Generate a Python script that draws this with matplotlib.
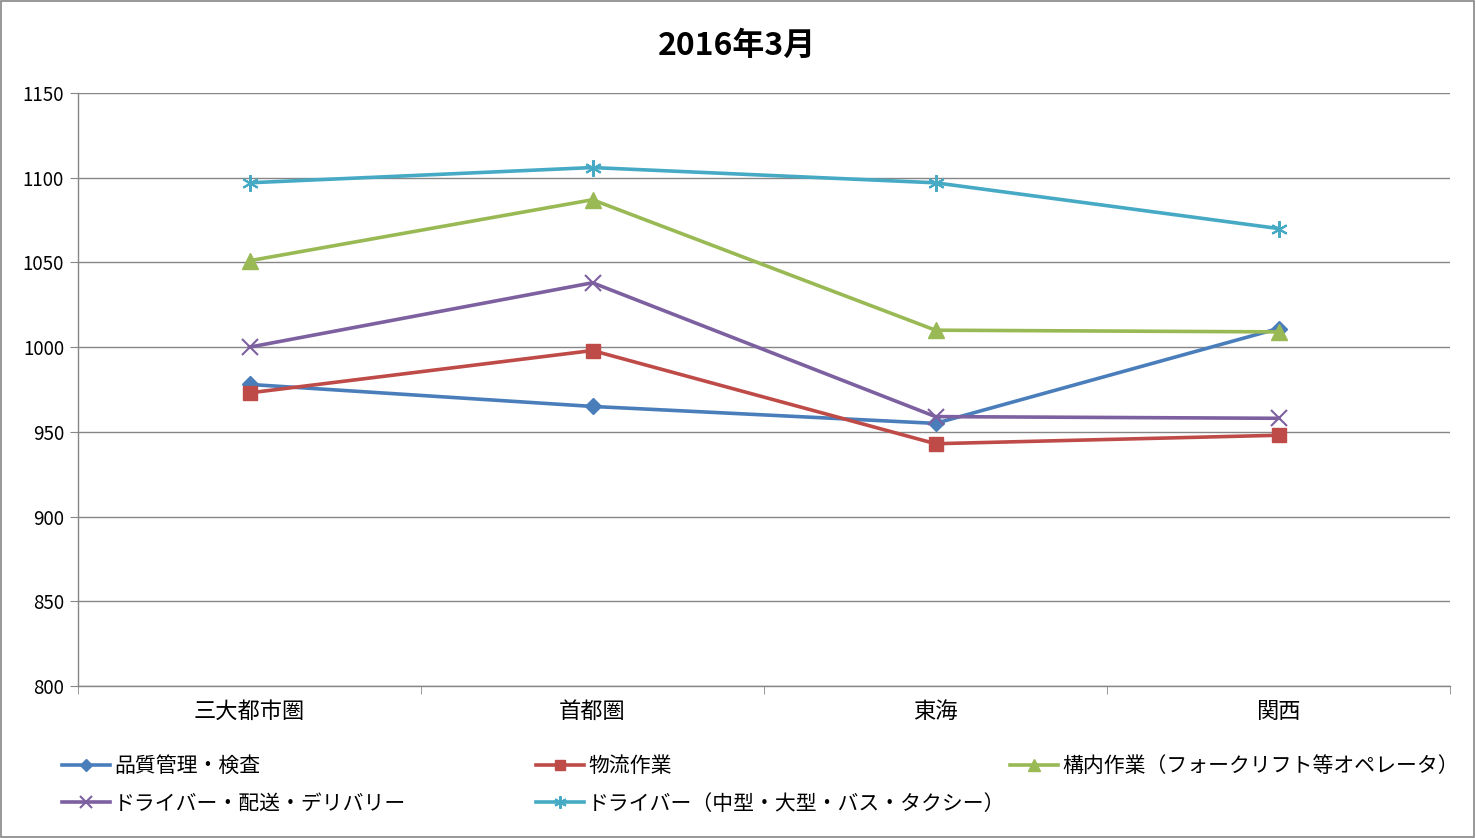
import matplotlib
matplotlib.use("Agg")
import matplotlib.pyplot as plt
from matplotlib.patches import Rectangle
import numpy as np

plt.rcParams['font.family'] = ['Noto Sans CJK JP', 'DejaVu Sans']

# data
regions = ['三大都市圏', '首都圏', '東海', '関西']
series_names = [
    '品質管理・検査',
    '物流作業',
    '構内作業（フォークリフト等オペレータ）',
    'ドライバー・配送・デリバリー',
    'ドライバー（中型・大型・バス・タクシー）',
]
quality = [978, 965, 955, 1011]
logistics = [973, 998, 943, 948]
forklift = [1051, 1087, 1010, 1009]
driver_delivery = [1000, 1038, 959, 958]
driver_large = [1097, 1106, 1097, 1070]
y_ticks = [800, 850, 900, 950, 1000, 1050, 1100, 1150]

values = [quality, logistics, forklift, driver_delivery, driver_large]
colors = ['#4A7EBB', '#BE4B48', '#98B954', '#7D60A0', '#46AAC5']
markers = ['D', 's', '^', 'x', (6, 2, 0)]
msizes = [8.5, 10, 11, 11, 12]

fig = plt.figure(figsize=(14.76, 8.38), dpi=100)
ax = fig.add_axes([78 / 1476, 1 - 686 / 838, 1372 / 1476, 593 / 838])

x = np.arange(len(regions))
handles = []
for vals, c, m, ms, name in zip(values, colors, markers, msizes, series_names):
    h, = ax.plot(x, vals, color=c, lw=2.6, marker=m, markersize=ms,
                 markeredgewidth=1.5 if m in ('x',) or isinstance(m, tuple) else 1,
                 markerfacecolor=c, markeredgecolor=c, label=name, zorder=3)
    handles.append(h)

ax.set_xlim(-0.5, len(regions) - 0.5)
ax.set_ylim(800, 1150)
ax.set_yticks(y_ticks)
ax.set_yticklabels([str(v) for v in y_ticks], fontsize=13.5)
ax.set_xticks(x)
ax.set_xticklabels(regions, fontsize=16)
ax.set_xticks(np.arange(-0.5, len(regions)), minor=True)
ax.tick_params(axis='x', which='major', length=0, pad=10)
ax.tick_params(axis='x', which='minor', length=6, color='#868686', direction='out')
ax.tick_params(axis='y', length=6, color='#868686', direction='out', pad=4)
ax.grid(axis='y', color='#868686', lw=1)
ax.set_axisbelow(True)
for s in ['top', 'right']:
    ax.spines[s].set_visible(False)
for s in ['left', 'bottom']:
    ax.spines[s].set_color('#868686')
    ax.spines[s].set_linewidth(1)

fig.text(737 / 1476, 1 - 46 / 838, '2016年3月', ha='center', va='center',
         fontsize=23, fontweight='bold')

# legend laid out in three columns, row-wise like the original
col_x = [62, 536, 1010]
cols = [[0, 3], [1, 4], [2]]
for cx, idx in zip(col_x, cols):
    fig.legend([handles[i] for i in idx], [series_names[i] for i in idx],
               loc='upper left', bbox_to_anchor=(cx / 1476, 1 - 755 / 838),
               frameon=False, fontsize=15, handlelength=2.3, handletextpad=0.2,
               labelspacing=0.75, borderpad=0, borderaxespad=0, markerscale=0.75)

fig.patches.append(Rectangle((0.0005, 0.001), 0.998, 0.998, transform=fig.transFigure,
                             fill=False, edgecolor='#868686', lw=1.2))

fig.savefig('out.png', dpi=100)
